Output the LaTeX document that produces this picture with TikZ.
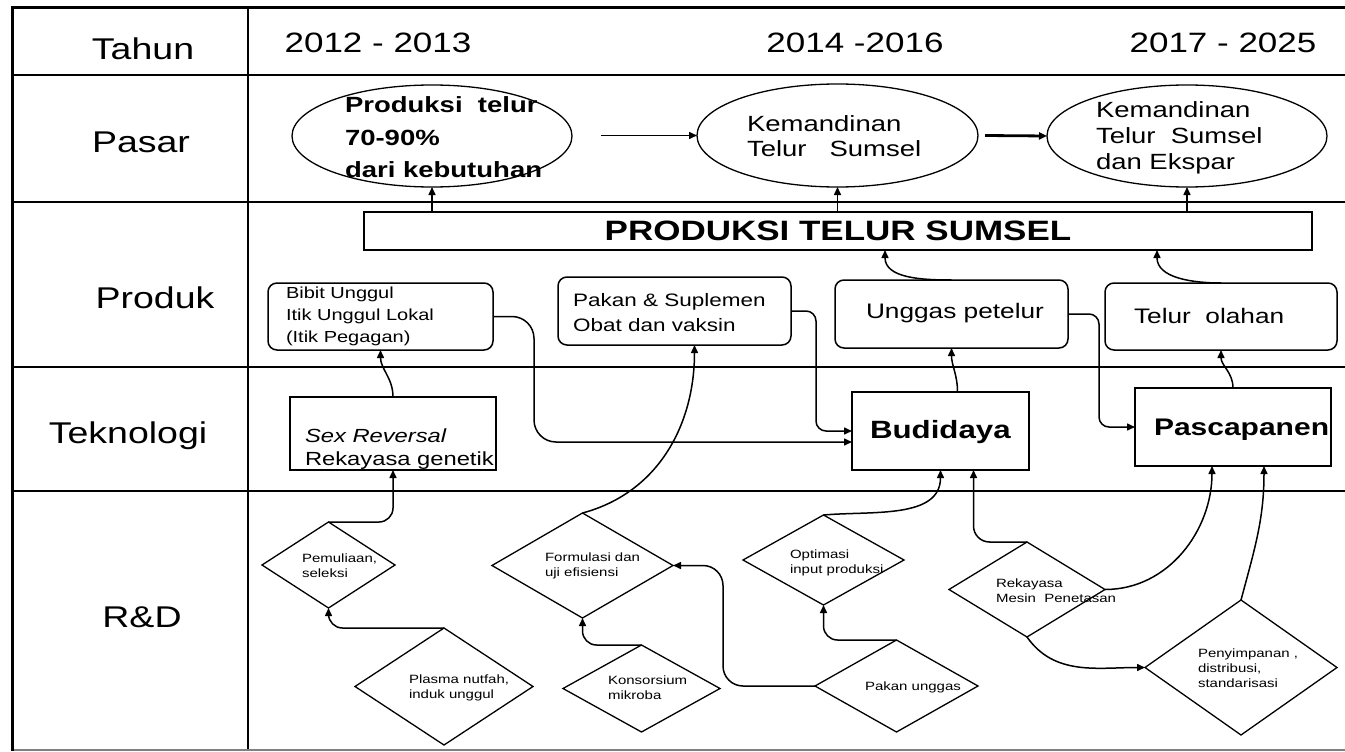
\documentclass[tikz,border=0pt]{standalone}
\usepackage{fontspec}
\setmainfont{Liberation Sans}[FakeStretch=1.25]
\usetikzlibrary{shapes.geometric,arrows.meta,calc}
\newcommand{\myfs}[2]{\fontsize{#1}{#2}\selectfont}
\begin{document}
\begin{tikzpicture}[x=1pt,y=-1pt,
  every node/.style={inner sep=0pt, outer sep=0pt},
  grid/.style={line width=1.5pt},
  border/.style={line width=3pt},
  ell/.style={ellipse, draw, line width=1.3pt},
  pbox/.style={rectangle, rounded corners=9pt, draw, line width=1.5pt},
  tbox/.style={rectangle, draw, line width=1.5pt},
  dia/.style={diamond, draw, line width=1.3pt},
  arr/.style={-{Triangle[length=8pt,width=7pt]}, line width=1.5pt},
  rowlbl/.style={font=\myfs{30}{36}, anchor=base},
  yr/.style={font=\myfs{28}{34}, anchor=base},
  dtxt/.style={anchor=west, align=left, font=\myfs{12}{15}},
]
\fill[white] (0,0) rectangle (1345,752);
\useasboundingbox (0,0) rectangle (1345,752);

% table grid
\draw[grid] (12,75) -- (1345,75);
\draw[grid] (12,202) -- (1345,202);
\draw[grid] (12,367) -- (1345,367);
\draw[grid] (12,491) -- (1345,491);
\draw[grid] (248,8) -- (248,750);
\draw[line width=1.5pt, gray] (12,750) -- (1345,750);
\draw[border] (1345,8) -- (12,8) -- (12,751);

% row and column labels
\node[rowlbl] (lTahun) at (143,60) {Tahun};
\node[rowlbl] (lPasar) at (141,152) {Pasar};
\node[rowlbl] (lProduk) at (155,308) {Produk};
\node[rowlbl] (lTek) at (128,443) {Teknologi};
\node[rowlbl] (lRD) at (142,627) {R\&D};
\node[yr] (y1) at (378,53) {2012 - 2013};
\node[yr] (y2) at (855,53) {2014 -2016};
\node[yr] (y3) at (1223,53) {2017 - 2025};

% Pasar
\node[ell, minimum width=280pt, minimum height=102pt] (e1) at (432,136) {};
\node[ell, minimum width=281pt, minimum height=103pt] (e2) at (837.5,135.5) {};
\node[ell, minimum width=280pt, minimum height=102pt] (e3) at (1187,136) {};
\node[anchor=north west, align=left, font=\bfseries\myfs{22}{32.5}] (e1t) at (345,97) {Produksi~ telur\\70-90\%\\dari kebutuhan};
\node[anchor=north west, align=left, font=\myfs{22}{25}] (e2t) at (747,116) {Kemandinan\\Telur~~ Sumsel};
\node[anchor=north west, align=left, font=\myfs{22}{26}] (e3t) at (1096,102) {Kemandinan\\Telur~ Sumsel\\dan Ekspar};

% Produk
\node[tbox, minimum width=948pt, minimum height=38pt, font=\bfseries\myfs{28}{34}] (prod) at (838,231) {PRODUKSI TELUR SUMSEL};
\node[pbox, minimum width=225pt, minimum height=67pt] (bib) at (380.5,316.5) {};
\node[pbox, minimum width=233pt, minimum height=68pt] (pak) at (674.5,311) {};
\node[pbox, minimum width=233pt, minimum height=68pt] (ung) at (951.5,314) {};
\node[pbox, minimum width=232pt, minimum height=67pt] (tel) at (1221,316.5) {};
\node[anchor=north west, align=left, font=\myfs{16}{22}] (bibt) at (286,287) {Bibit Unggul\\Itik Unggul Lokal\\(Itik Pegagan)};
\node[anchor=north west, align=left, font=\myfs{18}{25}] (pakt) at (573,293) {Pakan \& Suplemen\\Obat dan vaksin};
\node[anchor=base west, font=\myfs{21}{25}] (ungt) at (866,318) {Unggas petelur};
\node[anchor=base west, font=\myfs{21}{25}] (telt) at (1134,323) {Telur~ olahan};

% Teknologi
\node[tbox, minimum width=206pt, minimum height=73pt] (sex) at (393,433.5) {};
\node[tbox, minimum width=177pt, minimum height=78pt] (bud) at (940.5,431) {};
\node[tbox, minimum width=196pt, minimum height=78pt] (pas) at (1233,427) {};
\node[anchor=north west, align=left, font=\myfs{19}{23}] (sext) at (305,429) {\textit{Sex Reversal}\\Rekayasa genetik};
\node[anchor=base west, font=\bfseries\myfs{25}{30}] (budt) at (870,438) {Budidaya};
\node[anchor=base west, font=\bfseries\myfs{24}{30}] (past) at (1154,435) {Pascapanen};

% R&D
\node[dia, minimum width=133pt, minimum height=86pt] (d1) at (328.5,565) {};
\node[dia, minimum width=178pt, minimum height=117pt] (d2) at (444,686.5) {};
\node[dia, minimum width=181pt, minimum height=105pt] (d3) at (582.5,565.5) {};
\node[dia, minimum width=157pt, minimum height=87pt] (d4) at (641.5,688.5) {};
\node[dia, minimum width=161pt, minimum height=90pt] (d5) at (823.5,560) {};
\node[dia, minimum width=163pt, minimum height=92pt] (d6) at (896.5,686) {};
\node[dia, minimum width=156pt, minimum height=95pt] (d7) at (1027,589.5) {};
\node[dia, minimum width=192pt, minimum height=135pt] (d8) at (1241,667.5) {};
\node[dtxt] (d1t) at (302,566) {Pemuliaan,\\seleksi};
\node[dtxt] (d2t) at (409,688) {Plasma nutfah,\\induk unggul};
\node[dtxt] (d3t) at (545,566) {Formulasi dan\\uji efisiensi};
\node[dtxt] (d4t) at (608,688) {Konsorsium\\mikroba};
\node[dtxt] (d5t) at (790,563) {Optimasi\\input produksi};
\node[dtxt] (d6t) at (865,687) {Pakan unggas};
\node[dtxt] (d7t) at (996,591) {Rekayasa\\Mesin~ Penetasan};
\node[dtxt] (d8t) at (1198,668) {Penyimpanan ,\\distribusi,\\standarisasi};

% connectors
\draw[arr] (prod.north -| e1.south) -- (e1.south);
\draw[arr] (prod.north -| e2.south) -- (e2.south);
\draw[arr] (prod.north -| e3.south) -- (e3.south);
\draw[arr] ([xshift=-96pt]e2.west) -- (e2.west);
\draw[arr, line width=2.8pt] ([xshift=7pt]e2.east) -- (e3.west);
\draw[arr] (ung.north) to[out=180,in=-90] ([xshift=47pt]prod.south);
\draw[arr] (tel.north) to[out=180,in=-90] ([xshift=319pt]prod.south);
\draw[arr] (sex.north) to[out=90,in=-90] (bib.south);
\draw[arr, rounded corners=14pt] (d1.north) -| (sex.south);
\draw[arr, rounded corners=14pt] (d2.north) -| (d1.south);
\draw[arr, rounded corners=14pt] (d4.north) -| (d3.south);
\draw[arr] (d3.north) to[out=15,in=-90] ([xshift=20pt]pak.south);
\draw[arr, rounded corners=20pt] (d6.west) -| ([xshift=50pt]d3.east) -- (d3.east);
\draw[arr, rounded corners=14pt] (d6.north) -| (d5.south);
\draw[arr] (d5.north) to[out=5,in=-90] (bud.south);
\draw[arr, rounded corners=16pt] (d7.north) -| ([xshift=33pt]bud.south);
\draw[arr] (d7.east) to[out=0,in=-90] ([xshift=-21pt]pas.south);
\draw[arr] (d8.north) to[out=75,in=-90] ([xshift=31pt]pas.south);
\draw[arr] (d7.south) to[out=-55,in=180] (d8.west);
\draw[arr, rounded corners=22pt] (bib.east) -| ([xshift=-318pt,yshift=-11pt]bud.west) -- ([yshift=-11pt]bud.west);
\draw[arr, rounded corners=10pt] (pak.east) -| ([xshift=-36pt]bud.west) -- (bud.west);
\draw[arr, rounded corners=10pt] (ung.east) -| ([xshift=-36pt]pas.west) -- (pas.west);
\draw[arr] ([xshift=17pt]bud.north) to[out=90,in=-90] (ung.south);
\draw[arr] (pas.north) to[out=90,in=-90] (tel.south);
\end{tikzpicture}
\end{document}
